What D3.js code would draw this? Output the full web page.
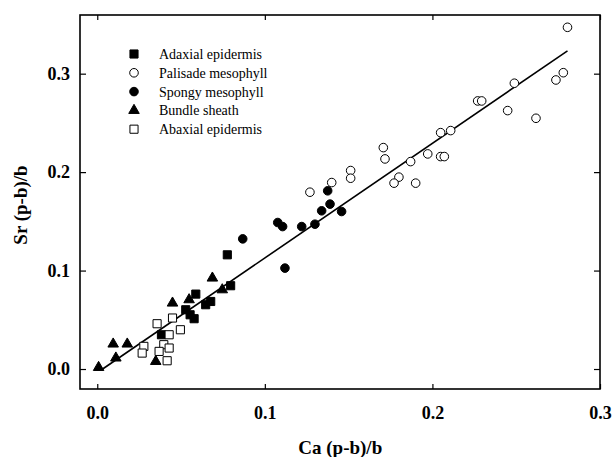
<!DOCTYPE html>
<html>
<head>
<meta charset="utf-8">
<script src="https://cdn.jsdelivr.net/npm/d3@7"></script>
<style>
    body { margin: 0; background: #fff; }
    text { font-family: "Liberation Serif", "Times New Roman", serif; }
</style>
</head>
<body>
<svg id="chart"></svg>
<script>
// values
var adaxialX = [0.0776, 0.0796, 0.0588, 0.0677, 0.0647, 0.0528, 0.0554, 0.0578, 0.0383];
var adaxialY = [0.1160, 0.0846, 0.0761, 0.0686, 0.0653, 0.0602, 0.0551, 0.0511, 0.0348];

var palisadeX = [0.2806, 0.2781, 0.2737, 0.2489, 0.2618, 0.2449, 0.2270, 0.2294, 0.2109, 0.2049,
    0.2049, 0.2071, 0.1972, 0.1870, 0.1900, 0.1800, 0.1771, 0.1717, 0.1707, 0.1512, 0.1512, 0.1399, 0.1269];
var palisadeY = [0.3471, 0.3010, 0.2936, 0.2903, 0.2547, 0.2625, 0.2723, 0.2723, 0.2422, 0.2401,
    0.2158, 0.2158, 0.2185, 0.2107, 0.1888, 0.1949, 0.1888, 0.2134, 0.2249, 0.2016, 0.1938, 0.1894, 0.1796];

var spongyX = [0.0868, 0.1077, 0.1106, 0.1120, 0.1220, 0.1299, 0.1339, 0.1389, 0.1375, 0.1458];
var spongyY = [0.1322, 0.1488, 0.1447, 0.1025, 0.1447, 0.1471, 0.1607, 0.1675, 0.1810, 0.1600];

var bundleX = [0.0687, 0.0746, 0.0548, 0.0449, 0.0095, 0.0179, 0.0111, 0.0008, 0.0349];
var bundleY = [0.0924, 0.0805, 0.0704, 0.0670, 0.0254, 0.0254, 0.0112, 0.0016, 0.0077];

var abaxialX = [0.0357, 0.0449, 0.0496, 0.0429, 0.0397, 0.0429, 0.0278, 0.0268, 0.0369, 0.0417];
var abaxialY = [0.0460, 0.0518, 0.0399, 0.0348, 0.0247, 0.0213, 0.0230, 0.0162, 0.0179, 0.0084];

// fitted line
var fitSlope = 1.165, fitIntercept = -0.0037, fitRange = [0.003, 0.2806];

var xTicks = [0.0, 0.1, 0.2, 0.3];
var yTicks = [0.0, 0.1, 0.2, 0.3];

var series = [
    { name: "Adaxial epidermis", shape: "square", fill: "#000", xs: adaxialX, ys: adaxialY },
    { name: "Palisade mesophyll", shape: "circle", fill: "#fff", xs: palisadeX, ys: palisadeY },
    { name: "Spongy mesophyll", shape: "circle", fill: "#000", xs: spongyX, ys: spongyY },
    { name: "Bundle sheath", shape: "triangle", fill: "#000", xs: bundleX, ys: bundleY },
    { name: "Abaxial epidermis", shape: "square", fill: "#fff", xs: abaxialX, ys: abaxialY }
];

var svg = d3.select("#chart"),
    margin = { top: 15, right: 14, bottom: 68, left: 80 },
    W = 614, H = 457,
    width = W - margin.left - margin.right,
    height = H - margin.top - margin.bottom;

svg.attr("width", W).attr("height", H);

var g = svg.append("g").attr("transform", "translate(" + margin.left + "," + margin.top + ")");

var x = d3.scaleLinear().domain([-0.0103, 0.3]).range([0, width]),
    y = d3.scaleLinear().domain([-0.0203, 0.3596]).range([height, 0]);

var symbols = {
    square: d3.symbol(d3.symbolSquare, 66),
    circle: d3.symbol(d3.symbolCircle, 58),
    triangle: d3.symbol(d3.symbolTriangle, 48)
};

// axes, ticks pointing inward
var fmt = d3.format(".1f");
function styleAxis(sel) {
    sel.select(".domain").remove();
    sel.selectAll(".tick line").attr("stroke", "#000").attr("stroke-width", 1.2);
    sel.selectAll("text")
        .attr("fill", "#000")
        .style("font-size", "18px")
        .style("font-weight", "bold");
}

g.append("g")
    .attr("transform", "translate(0," + height + ")")
    .call(d3.axisBottom(x).tickValues(xTicks).tickFormat(fmt).tickSizeInner(-5).tickSizeOuter(0).tickPadding(17))
    .call(styleAxis);

g.append("g")
    .call(d3.axisTop(x).tickValues(xTicks).tickFormat("").tickSizeInner(-5).tickSizeOuter(0))
    .call(styleAxis);

g.append("g")
    .call(d3.axisLeft(y).tickValues(yTicks).tickFormat(fmt).tickSizeInner(-6).tickSizeOuter(0).tickPadding(10))
    .call(styleAxis);

g.append("g")
    .attr("transform", "translate(" + width + ",0)")
    .call(d3.axisRight(y).tickValues(yTicks).tickFormat("").tickSizeInner(-6).tickSizeOuter(0))
    .call(styleAxis);

// frame
g.append("rect")
    .attr("width", width)
    .attr("height", height)
    .attr("fill", "none")
    .attr("stroke", "#000")
    .attr("stroke-width", 1.6);

// regression line
var line = d3.line()
    .x(function (d) { return x(d); })
    .y(function (d) { return y(fitSlope * d + fitIntercept); });

g.append("path")
    .datum(fitRange)
    .attr("d", line)
    .attr("fill", "none")
    .attr("stroke", "#000")
    .attr("stroke-width", 1.6);

// points
series.forEach(function (s) {
    var pts = s.xs.map(function (v, i) { return [v, s.ys[i]]; });
    g.append("g").selectAll("path")
        .data(pts)
        .enter()
        .append("path")
        .attr("d", symbols[s.shape])
        .attr("transform", function (d) { return "translate(" + x(d[0]) + "," + y(d[1]) + ")"; })
        .attr("fill", s.fill)
        .attr("stroke", "#000")
        .attr("stroke-width", 1);
});

// legend
var legend = svg.append("g").attr("transform", "translate(134,54)");
var item = legend.selectAll("g")
    .data(series)
    .enter()
    .append("g")
    .attr("transform", function (d, i) { return "translate(0," + (i * 18.8) + ")"; });

item.append("path")
    .attr("d", function (d) { return symbols[d.shape](); })
    .attr("fill", function (d) { return d.fill; })
    .attr("stroke", "#000")
    .attr("stroke-width", 1);

item.append("text")
    .attr("x", 25)
    .attr("dy", "0.35em")
    .style("font-size", "14px")
    .text(function (d) { return d.name; });

// axis titles
svg.append("text")
    .attr("x", margin.left + x(0.145))
    .attr("y", 454)
    .attr("text-anchor", "middle")
    .style("font-size", "19px")
    .style("font-weight", "bold")
    .text("Ca (p-b)/b");

svg.append("text")
    .attr("transform", "translate(27,205) rotate(-90)")
    .attr("text-anchor", "middle")
    .style("font-size", "19px")
    .style("font-weight", "bold")
    .text("Sr (p-b)/b");
</script>
</body>
</html>
